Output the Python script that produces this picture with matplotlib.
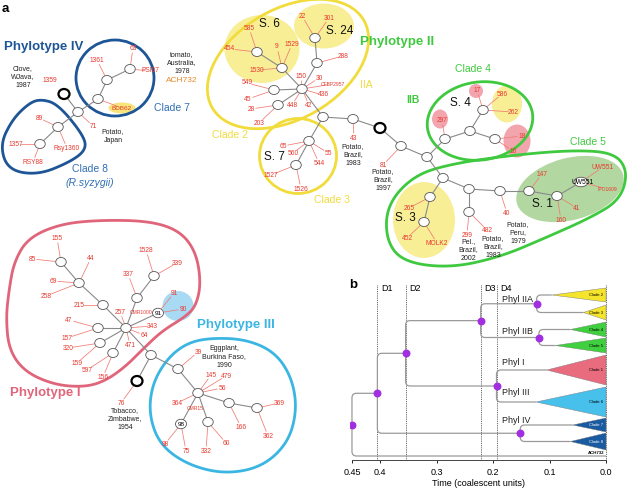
import numpy as np
import matplotlib
matplotlib.use('Agg')
import matplotlib.pyplot as plt
from matplotlib.patches import Ellipse, Polygon, PathPatch
from matplotlib.path import Path

plt.rcParams['font.family'] = ['Liberation Sans', 'DejaVu Sans']

RED = '#e8392f'
LEAD = '#f07a72'
EDGE = '#8a8a8a'
YEL = '#f1dc3c'
PYEL = '#f8ee96'
GRN = '#3fc93f'
PINK = '#e0657a'
LBLUE = '#3bb6e3'
DBLUE = '#1d5596'
CBLUE = '#2f6fb5'

# ---------------- panel a : network ----------------
# node positions (pixels of the original figure)
nodes_iv = {'iv1': (130, 69), 'iv2': (107, 80), 'iv3': (98, 99), 'iv4': (78, 112),
            'iv5': (58, 127), 'iv6': (40, 144)}
edges_iv = [('iv1', 'iv2'), ('iv2', 'iv3'), ('iv3', 'iv4'), ('iv4', 'iv0'),
            ('iv4', 'iv5'), ('iv5', 'iv6')]
labels_iv = [('63', 133, 48, 'iv1'), ('PSI07', 150, 71, 'iv1'), ('1361', 97, 60, 'iv2'),
             ('BDB62', 122, 108, 'iv3'), ('1359', 50, 81, None), ('71', 93, 126, 'iv4'),
             ('89', 39, 118, 'iv5'), ('Rsy1360', 67, 148, 'iv5'), ('1357', 16, 144, 'iv6'),
             ('RSY88', 33, 162, 'iv6')]

nodes_ii = {'a1': (315, 38), 'a2': (317, 63), 'a3': (302, 89), 'a4': (282, 68),
            'a5': (257, 52), 'a6': (274, 90), 'a7': (278, 105), 'a8': (323, 117),
            'a9': (353, 119), 'c1': (309, 141), 'c2': (296, 165),
            'b1': (401, 146), 'b2': (427, 157), 'b3': (445, 139), 'b4': (470, 131),
            'b5': (483, 110), 'b6': (495, 139), 'b7': (443, 178), 'b8': (469, 189),
            'b9': (469, 212), 'b10': (500, 191), 'b11': (529, 191), 'b12': (557, 196),
            'b14': (430, 197), 'b15': (424, 222)}
edges_ii = [('a1', 'a2'), ('a2', 'a3'), ('a3', 'a4'), ('a4', 'a5'), ('a3', 'a6'),
            ('a3', 'a7'), ('a3', 'a8'), ('a8', 'a9'), ('a9', 'a0'), ('a0', 'b1'),
            ('a8', 'c1'), ('c1', 'c2'), ('b1', 'b2'), ('b2', 'b3'), ('b3', 'b4'),
            ('b4', 'b5'), ('b4', 'b6'), ('b2', 'b7'), ('b7', 'b8'), ('b8', 'b9'),
            ('b8', 'b10'), ('b10', 'b11'), ('b11', 'b12'), ('b12', 'b13'),
            ('b7', 'b14'), ('b14', 'b15')]
labels_ii = [('22', 302, 16, 'a1'), ('301', 329, 18, 'a1'), ('288', 343, 56, 'a2'),
             ('585', 249, 28, 'a5'), ('454', 230, 49, 'a5'), ('9', 277, 47, 'a4'),
             ('1529', 292, 44, 'a4'), ('1530', 257, 70, 'a4'), ('150', 301, 76, 'a3'),
             ('30', 319, 78, 'a3'), ('CFBP2957', 333, 84, 'a3'), ('436', 323, 95, 'a3'),
             ('42', 309, 105, 'a3'), ('448', 292, 105, 'a3'), ('549', 247, 83, 'a6'),
             ('45', 248, 99, 'a6'), ('28', 251, 109, 'a7'), ('203', 259, 123, 'a7'),
             ('43', 354, 138, 'a9'), ('65', 283, 146, 'c1'), ('560', 293, 153, 'c1'),
             ('55', 328, 153, 'c1'), ('544', 319, 163, 'c1'), ('1527', 271, 175, 'c2'),
             ('1526', 301, 189, 'c2'), ('81', 383, 165, 'b1'),
             ('17', 477, 90, 'b5'), ('586', 502, 94, 'b5'), ('262', 513, 112, 'b5'),
             ('297', 442, 120, 'b3'), ('18', 522, 136, 'b6'), ('16', 513, 151, 'b6'),
             ('147', 542, 174, 'b11'), ('UW551', 603, 167, 'b13'), ('IPO1609', 607, 189, 'b13'),
             ('41', 577, 208, 'b12'), ('160', 561, 220, 'b12'), ('40', 507, 213, 'b10'),
             ('482', 487, 230, 'b9'), ('299', 467, 235, 'b9'), ('265', 409, 208, 'b14'),
             ('452', 407, 238, 'b15'), ('MOLK2', 437, 243, 'b15')]

nodes_i = {'p1': (61, 262), 'p2': (79, 283), 'p3': (103, 305), 'p4': (126, 328),
           'p5': (98, 328), 'p6': (100, 343), 'p7': (113, 353), 'p8': (137, 298),
           'p9': (154, 276), 'p11': (151, 355),
           'q1': (178, 369), 'q2': (198, 393), 'q3': (229, 403), 'q4': (257, 408),
           'q5': (208, 422)}
edges_i = [('p1', 'p2'), ('p2', 'p3'), ('p3', 'p4'), ('p4', 'p5'), ('p4', 'p6'),
           ('p4', 'p7'), ('p4', 'p8'), ('p8', 'p9'), ('p4', 'p10'), ('p4', 'p11'),
           ('p11', 'p0'), ('p11', 'q1'), ('q1', 'q2'), ('q2', 'q3'), ('q3', 'q4'),
           ('q2', 'q5'), ('q2', 'q6')]
labels_i = [('155', 57, 238, 'p1'), ('85', 32, 259, 'p1'), ('44', 91, 258, 'p2'),
            ('69', 53, 281, 'p2'), ('258', 46, 296, 'p2'), ('215', 79, 305, 'p3'),
            ('1528', 146, 250, 'p9'), ('339', 177, 263, 'p9'), ('337', 128, 274, 'p8'),
            ('257', 120, 312, 'p4'), ('CMR1000', 141, 312, None), ('91', 174, 293, 'p10'),
            ('90', 183, 309, 'p10'), ('343', 152, 326, 'p4'), ('64', 144, 335, 'p4'),
            ('471', 130, 345, 'p4'), ('47', 69, 320, 'p5'), ('157', 67, 338, 'p5'),
            ('320', 68, 348, 'p6'), ('159', 77, 363, 'p6'), ('597', 87, 370, 'p7'),
            ('156', 103, 377, 'p7'), ('76', 121, 403, 'p0'),
            ('39', 198, 352, 'q1'), ('145', 211, 375, 'q2'), ('479', 226, 376, 'q2'),
            ('56', 222, 388, 'q2'), ('364', 177, 403, 'q2'), ('CMR15', 195, 408, None),
            ('369', 279, 403, 'q4'), ('362', 268, 436, 'q4'), ('166', 241, 427, 'q3'),
            ('332', 206, 451, 'q5'), ('60', 226, 443, 'q5'), ('98', 165, 444, 'q6'),
            ('75', 186, 451, 'q6')]

black_nodes = {'iv0': (64, 94), 'a0': (380, 128), 'p0': (137, 381)}
named_nodes = {'p10': ('91', 158, 313), 'q6': ('98', 181, 424), 'b13': ('UW551', 581, 182)}

origins = [('Clove,\nWJava,\n1987', 23, 77), ('Potato,\nJapan', 113, 136),
           ('tomato,\nAustralia,\n1978', 182, 63), ('Potato,\nBrazil,\n1983', 353, 155),
           ('Potato,\nBrazil,\n1997', 383, 180), ('Pel.,\nBrazil,\n2002', 468, 250),
           ('Potato,\nBrazil,\n1983', 493, 247), ('Potato,\nPeru,\n1979', 518, 233),
           ('Tobacco,\nZimbabwe,\n1954', 125, 419), ('Eggplant,\nBurkina Faso,\n1990', 224, 357)]

phyl1_outline = [(60, 224), (100, 220), (150, 221), (180, 231), (196, 252), (201, 283),
                 (196, 306), (185, 317), (162, 331), (143, 349), (125, 367), (105, 381),
                 (85, 387), (55, 385), (25, 372), (9, 350), (6, 318), (9, 290),
                 (14, 262), (28, 238)]
phyl3_outline = [(208, 338), (245, 339), (275, 352), (292, 378), (297, 410), (288, 443),
                 (262, 467), (225, 474), (188, 465), (160, 445), (149, 415), (152, 385),
                 (166, 360), (185, 344)]
clade5_outline = [(413, 176), (450, 164), (513, 155), (575, 150), (615, 153), (628, 172),
                  (620, 200), (590, 218), (545, 238), (500, 257), (450, 268), (403, 262),
                  (386, 240), (387, 205)]
clade8_outline = [(40, 99), (58, 104), (84, 136), (86, 150), (70, 162), (38, 175),
                  (8, 170), (0, 145), (12, 120), (28, 104)]


def smooth(pts, n=4):
    p = np.array(pts, float)
    for _ in range(n):
        nx = np.roll(p, -1, axis=0)
        q = np.empty((2 * len(p), 2))
        q[0::2] = 0.75 * p + 0.25 * nx
        q[1::2] = 0.25 * p + 0.75 * nx
        p = q
    return p


fig = plt.figure(figsize=(6.27, 4.90), dpi=100)
ax = fig.add_axes([0, 0, 1, 1])
ax.set_xlim(0, 627)
ax.set_ylim(490, 0)
ax.axis('off')

pos = {}
for d in (nodes_iv, nodes_ii, nodes_i, black_nodes):
    pos.update(d)
for k, v in named_nodes.items():
    pos[k] = (v[1], v[2])

# shaded groups
fills = [((262, 49), 75, 68, 0, PYEL), ((324, 26), 60, 45, 0, PYEL),
         ((570, 189), 110, 62, -15, '#b3d7a0'), ((424, 220), 62, 76, 0, PYEL),
         ((476, 91), 14, 14, 0, '#f3a5ae'), ((440, 119), 16, 19, 0, '#f3a5ae'),
         ((517, 141), 27, 33, 0, '#f3a5ae'), ((507, 104), 30, 37, 0, PYEL),
         ((178, 306), 31, 30, 0, '#a8daf3'), ((122, 108), 27, 11, 0, '#f7e47a')]
for c, w, h, ang, col in fills:
    ax.add_patch(Ellipse(c, w, h, angle=ang, fc=col, ec='none', zorder=1))

# outlines
outl = [((115, 78), 78, 76, 0, DBLUE), ((288, 64), 175, 110, -30, YEL),
        ((298, 156), 77, 75, 0, YEL), ((480, 121), 106, 78, -8, GRN)]
for c, w, h, ang, col in outl:
    ax.add_patch(Ellipse(c, w, h, angle=ang, fc='none', ec=col, lw=2, zorder=1))
for pts, col in ((phyl1_outline, PINK), (phyl3_outline, LBLUE),
                 (clade5_outline, GRN), (clade8_outline, DBLUE)):
    ax.add_patch(Polygon(smooth(pts), closed=True, fc='none', ec=col, lw=2, zorder=1))

# edges
for el in (edges_iv, edges_ii, edges_i):
    for u, v in el:
        (x0, y0), (x1, y1) = pos[u], pos[v]
        ax.plot([x0, x1], [y0, y1], color=EDGE, lw=0.8, zorder=3)

# red labels and leader lines
for lab in (labels_iv, labels_ii, labels_i):
    for txt, lx, ly, nd in lab:
        fs = 3.6 if txt.startswith('CMR') or txt in ('CFBP2957', 'IPO1609') else 4.8
        if txt == 'BDB62':
            fs = 4.6
        ax.text(lx, ly, txt, color=RED, fontsize=fs, ha='center', va='center', zorder=6)
        if nd is None:
            continue
        x0, y0 = pos[nd]
        dx, dy = lx - x0, ly - y0
        L = np.hypot(dx, dy)
        if L > 9:
            f = (L - 5) / L
            ax.plot([x0, x0 + dx * f], [y0, y0 + dy * f], color=LEAD, lw=0.55, zorder=2)

# nodes
for d in (nodes_iv, nodes_ii, nodes_i):
    for k, (x, y) in d.items():
        ax.add_patch(Ellipse((x, y), 10.5, 9, fc='white', ec='#555555', lw=0.6, zorder=4))
for k, (x, y) in black_nodes.items():
    ax.add_patch(Ellipse((x, y), 11, 10, fc='white', ec='black', lw=1.6, zorder=4))
for k, (t, x, y) in named_nodes.items():
    w = 14 if len(t) > 2 else 11
    ax.add_patch(Ellipse((x, y), w, 9.5, fc='white', ec='#555555', lw=0.6, zorder=4))
    ax.text(x + (2 if len(t) > 2 else 0), y, t, fontsize=4.8 if len(t) > 2 else 4.6,
            ha='center', va='center', color='black', zorder=6)

for txt, x, y in origins:
    ax.text(x, y, txt, fontsize=5, ha='center', va='center', linespacing=1.25,
            color='#222222', zorder=6)
ax.text(182, 81, 'ACH732', fontsize=6, color='#e8892a', ha='center', va='center')

# group titles
ax.text(2, 9, 'a', fontsize=9.5, fontweight='bold', ha='left', va='center')
ax.text(44, 47, 'Phylotype IV', fontsize=9.5, fontweight='bold', color=DBLUE, ha='center', va='center')
ax.text(397, 42, 'Phylotype II', fontsize=9.5, fontweight='bold', color=GRN, ha='center', va='center')
ax.text(45, 393, 'Phylotype I', fontsize=9.5, fontweight='bold', color=PINK, ha='center', va='center')
ax.text(236, 325, 'Phylotype III', fontsize=9.5, fontweight='bold', color=LBLUE, ha='center', va='center')
for txt, x, y, col in (('Clade 7', 172, 108, CBLUE), ('Clade 8', 90, 169, CBLUE),
                       ('Clade 2', 230, 135, YEL), ('Clade 3', 332, 200, YEL),
                       ('IIA', 366, 85, YEL), ('Clade 4', 473, 69, GRN),
                       ('Clade 5', 588, 142, GRN)):
    ax.text(x, y, txt, fontsize=7.5, color=col, ha='center', va='center')
ax.text(90, 183, '(R.syzygii)', fontsize=7.5, color=CBLUE, style='italic', ha='center', va='center')
ax.text(413, 100, 'IIB', fontsize=7.5, color=GRN, fontweight='bold', ha='center', va='center')
for txt, x, y in (('S. 6', 269, 24), ('S. 24', 340, 31), ('S. 7', 274, 157),
                  ('S. 4', 460, 103), ('S. 1', 542, 204), ('S. 3', 405, 218)):
    ax.text(x, y, txt, fontsize=8.5, color='#111111', ha='center', va='center', zorder=6)

# ---------------- panel b : dated tree ----------------
clade_names = ['Clade 2', 'Clade 3', 'Clade 4', 'Clade 5', 'Clade 1', 'Clade 6', 'Clade 7', 'Clade 8']
clade_apex = [0.096, 0.040, 0.063, 0.090, 0.105, 0.124, 0.059, 0.063]
clade_top = [288, 305, 322, 338, 355, 387, 418, 433]
clade_bot = [302, 320, 337, 353, 385, 417, 432, 450]
clade_cols = ['#f5e42c', '#f5e42c', '#3fcf3f', '#3fcf3f', '#e86b7e', '#48c0ec', '#1a5aa0', '#1a5aa0']
clade_txt = ['black'] * 6 + ['white', 'white']
# internal nodes: time, children
tree = {'IIA': (0.123, ['Clade 2', 'Clade 3']), 'IIB': (0.119, ['Clade 4', 'Clade 5']),
        'IV': (0.152, ['Clade 7', 'Clade 8']), 'I_III': (0.194, ['Clade 1', 'Clade 6']),
        'II': (0.222, ['IIA', 'IIB']), 'B': (0.355, ['II', 'I_III']),
        'A': (0.405, ['B', 'IV']), 'root': (0.45, ['A', 'ACH732'])}
outgroup_y = 456
d_lines = [('D1', 0.405), ('D2', 0.355), ('D3', 0.222), ('D4', 0.194)]
phyl_labels = [('Phyl IIA', 299), ('Phyl IIB', 331), ('Phyl I', 362), ('Phyl III', 392), ('Phyl IV', 420)]

bx = fig.add_axes([350 / 627, 30 / 490, 258 / 627, 177 / 490])
bx.set_facecolor('none')
bx.set_xlim(0.4535, -0.0035)
bx.set_ylim(460, 283)

ty, tt = {}, {}
for n, a, t, b in zip(clade_names, clade_apex, clade_top, clade_bot):
    ty[n] = (t + b) / 2
    tt[n] = a
ty['ACH732'] = outgroup_y
tt['ACH732'] = 0.0


def place(n):
    if n in ty:
        return ty[n]
    t, ch = tree[n]
    ty[n] = np.mean([place(c) for c in ch])
    tt[n] = t
    return ty[n]


place('root')
rx, ry = 0.008, 4.5
for n, (t, ch) in tree.items():
    yp = ty[n]
    for c in ch:
        yc = ty[c]
        sg = 1 if yc > yp else -1
        verts = [(t, yp), (t, yc - sg * ry), (t, yc), (t - rx, yc), (tt[c], yc)]
        codes = [Path.MOVETO, Path.LINETO, Path.CURVE3, Path.CURVE3, Path.LINETO]
        bx.add_patch(PathPatch(Path(verts, codes), fc='none', ec='#9a9a9a', lw=0.9, zorder=2))
    bx.scatter([t], [yp], s=22, color='#a12ee0', zorder=5)

for n, a, t, b, col, tc in zip(clade_names, clade_apex, clade_top, clade_bot, clade_cols, clade_txt):
    bx.add_patch(Polygon([(a, (t + b) / 2), (0, t), (0, b)], closed=True, fc=col,
                         ec='#777777', lw=0.3, zorder=3))
    bx.text(0.017, (t + b) / 2, n, fontsize=3, color=tc, ha='center', va='center', zorder=4)
bx.text(0.017, outgroup_y - 3, 'ACH732', fontsize=3.2, fontweight='bold', ha='center', va='center')

for lab, t in d_lines:
    bx.plot([t, t], [285, 460], color='#333333', lw=0.6, ls=(0, (1, 1.2)), zorder=1)
    bx.text(t - 0.006, 288, lab, fontsize=6.5, ha='left', va='center')
bx.plot([0, 0], [285, 460], color='#333333', lw=0.6, ls=(0, (1, 1.2)), zorder=1)
for lab, y in phyl_labels:
    bx.text(0.185, y, lab, fontsize=6.5, ha='left', va='center', color='#222222')

bx.text(0.448, 285, 'b', fontsize=9.5, fontweight='bold', ha='center', va='center')
for s in ('top', 'right', 'left'):
    bx.spines[s].set_visible(False)
bx.spines['bottom'].set_bounds(0, 0.45)
bx.spines['bottom'].set_color('#444444')
bx.spines['bottom'].set_linewidth(0.7)
bx.set_yticks([])
bx.set_xticks([0.45, 0.4, 0.3, 0.2, 0.1, 0.0])
bx.set_xticklabels(['0.45', '0.4', '0.3', '0.2', '0.1', '0.0'])
bx.tick_params(axis='x', labelsize=6.5, length=2.5, width=0.6, pad=3)
bx.set_xlabel('Time (coalescent units)', fontsize=6.5, labelpad=2)

fig.savefig('out.png', dpi=100)
